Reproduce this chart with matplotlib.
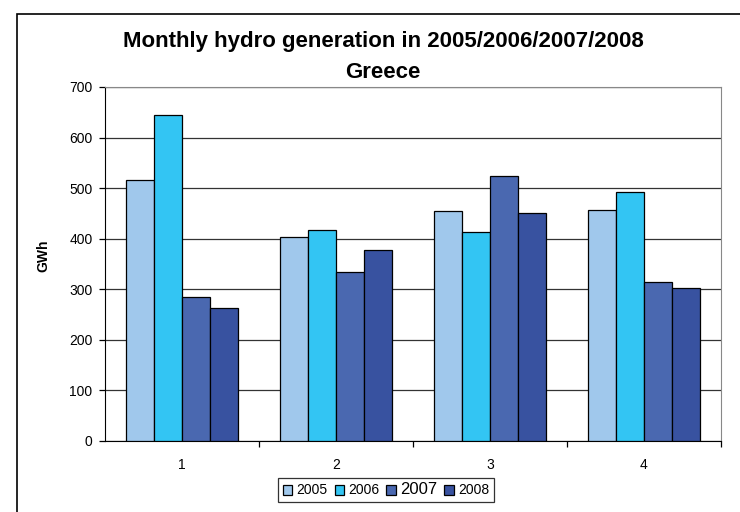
import matplotlib.pyplot as plt
import numpy as np
from matplotlib.patches import Rectangle

plt.rcParams['font.family'] = ['Liberation Sans', 'DejaVu Sans']

# monthly hydro generation, GWh
months = ['1', '2', '3', '4']
years = ['2005', '2006', '2007', '2008']
gen_2005 = [516, 404, 455, 457]
gen_2006 = [645, 418, 413, 492]
gen_2007 = [285, 335, 523, 315]
gen_2008 = [263, 378, 450, 302]
colors = ['#A0C8EC', '#33C5F3', '#4A68B0', '#3852A0']

fig = plt.figure(figsize=(7.4, 5.12), dpi=100)
ax = fig.add_axes([0.1419, 0.1387, 0.8324, 0.6914])

# outer chart frame, runs off the right and bottom edge like the original
fig.patches.append(Rectangle((17 / 740, -0.1), 1.2, 1 - 14 / 512 + 0.1,
                             transform=fig.transFigure, fill=False,
                             edgecolor='black', linewidth=1.2, zorder=0))

x = np.arange(len(months))
w = 0.727 / 4
series = [gen_2005, gen_2006, gen_2007, gen_2008]
for i, (vals, c, yr) in enumerate(zip(series, colors, years)):
    ax.bar(x + (i - 1.5) * w, vals, w, color=c, edgecolor='black',
           linewidth=0.9, label=yr, zorder=3)

ax.set_xlim(-0.5, 3.5)
ax.set_ylim(0, 700)
ax.set_yticks(range(0, 701, 100))
ax.yaxis.grid(True, color='#333333', linewidth=0.9, zorder=0)
ax.tick_params(axis='y', labelsize=10, length=4, direction='out', width=0.9, pad=5)

# category ticks at boundaries, labels at centres
ax.set_xticks([0.5, 1.5, 2.5, 3.5])
ax.set_xticklabels([])
ax.set_xticks(x, minor=True)
ax.set_xticklabels(months, minor=True)
ax.tick_params(axis='x', which='major', length=4, width=0.9, direction='out')
ax.tick_params(axis='x', which='minor', length=0, labelsize=10, pad=12)

for s in ['top', 'right']:
    ax.spines[s].set_color('#888888')
ax.spines['left'].set_color('black')
ax.spines['bottom'].set_color('black')

ax.set_ylabel('GWh', fontsize=10, fontweight='bold')
ax.yaxis.set_label_coords(-0.089, 0.523)

fig.text(383 / 740, 1 - 42 / 512, 'Monthly hydro generation in 2005/2006/2007/2008',
         ha='center', va='center', fontsize=16, fontweight='bold')
fig.text(383 / 740, 1 - 72 / 512, 'Greece',
         ha='center', va='center', fontsize=16, fontweight='bold')

leg = fig.legend(loc='center', bbox_to_anchor=(386 / 740, 1 - 490 / 512), ncol=4,
                 fontsize=10, frameon=True, fancybox=False, edgecolor='black',
                 handlelength=0.7, handleheight=0.7, handletextpad=0.3,
                 columnspacing=0.5, borderpad=0.3)
leg.get_frame().set_linewidth(0.9)
leg.get_texts()[2].set_fontsize(12)

fig.savefig('out.png', dpi=100)
